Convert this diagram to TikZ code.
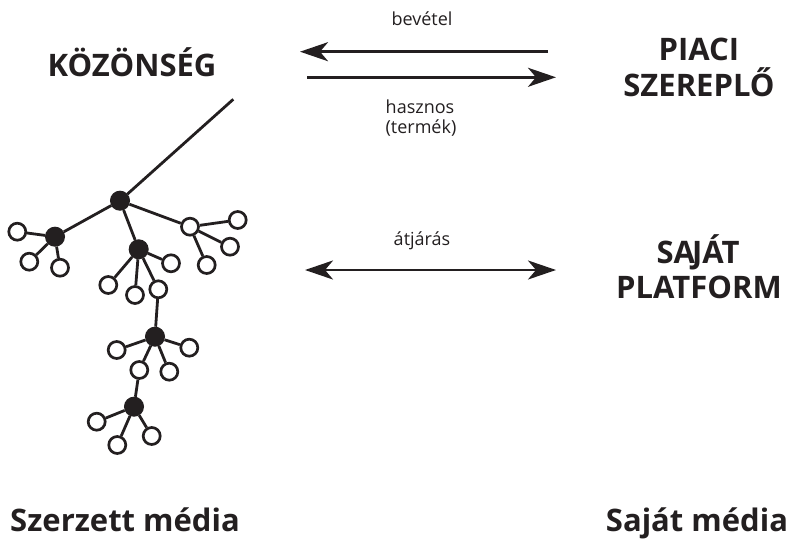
\documentclass[tikz,border=0pt]{standalone}
\usepackage{fontspec}
\setmainfont{Open Sans}
\usetikzlibrary{arrows.meta}
\definecolor{ink}{HTML}{231F20}
\begin{document}
\begin{tikzpicture}[x=1pt,y=-1pt,
  line width=2.5pt, draw=ink,
  open/.style={circle,draw=ink,fill=white,line width=2.7pt,inner sep=0pt,minimum size=17pt},
  hub/.style={circle,draw=ink,fill=ink,line width=1pt,inner sep=0pt,minimum size=19pt},
  big/.style={font=\fontsize{31}{36}\selectfont\bfseries,text=ink,anchor=base,align=center},
  small/.style={font=\fontsize{18}{20}\selectfont,text=ink,anchor=base},
  arr/.style={line width=2.8pt,draw=ink,-{Stealth[length=28pt,width=19pt,inset=8pt]}},
  link/.style={line width=2.8pt,draw=ink}]
\useasboundingbox (0,0) rectangle (788,541);
% texts
\node[big] (koz) at (132,76.7) {KÖZÖNSÉG};
\node[big] (piaci) at (699,60.7) {PIACI};
\node[big] (szer) at (699,96.7) {SZEREPLŐ};
\node[big] (sajat) at (698,263.3) {SA\kern-3pt JÁT};
\node[big] (plat) at (699,298.3) {PLATFORM};
\node[big] (szm) at (125,531.7) {Szerzett média};
\node[big] (sjm) at (697,531.7) {Saját média};
\node[small] (bev) at (422,25) {bevétel};
\node[small] (hasz) at (420,113) {hasznos};
\node[small] (term) at (421,133) {(termék)};
\node[small] (atj) at (422,245) {átjárás};
% arrows
\coordinate (a1s) at (548,51.7);
\coordinate (a1e) at (300,51.7);
\coordinate (a2s) at (307,77.3);
\coordinate (a2e) at (556,77.3);
\coordinate (a3s) at (305,270);
\coordinate (a3e) at (556,270);
\draw[arr] (a1s) -- (a1e);
\draw[arr] (a2s) -- (a2e);
\draw[arr,{Stealth[length=28pt,width=19pt,inset=8pt]}-{Stealth[length=28pt,width=19pt,inset=8pt]}] (a3s) -- (a3e);
% tree
\coordinate (top) at (233.3,99.3);
\node[hub] (A) at (120,200.7) {};
\node[hub] (B) at (55,236.7) {};
\node[hub] (C) at (138.7,249.3) {};
\node[open] (D) at (190,226.7) {};
\node[open] (b1) at (17.3,231.7) {};
\node[open] (b2) at (29.3,261.7) {};
\node[open] (b3) at (60,267.7) {};
\node[open] (d1) at (237.7,220) {};
\node[open] (d2) at (230,246.7) {};
\node[open] (d3) at (206.7,265) {};
\node[open] (c1) at (108.3,285) {};
\node[open] (c2) at (135,295) {};
\node[open] (c3) at (158.3,289.3) {};
\node[open] (c4) at (171,263.3) {};
\node[hub] (E) at (155,336.7) {};
\node[open] (e1) at (116.7,350) {};
\node[open] (e2) at (189.3,347.7) {};
\node[open] (e3) at (139.3,370) {};
\node[open] (e4) at (169.3,371.7) {};
\node[hub] (F) at (134,406.7) {};
\node[open] (f1) at (96.7,421.7) {};
\node[open] (f2) at (117.3,445) {};
\node[open] (f3) at (151.7,436) {};
\draw[link] (A) -- (top);
\draw[link] (A) -- (B);
\draw[link] (A) -- (C);
\draw[link] (A) -- (D);
\draw[link] (B) -- (b1);
\draw[link] (B) -- (b2);
\draw[link] (B) -- (b3);
\draw[link] (D) -- (d1);
\draw[link] (D) -- (d2);
\draw[link] (D) -- (d3);
\draw[link] (C) -- (c1);
\draw[link] (C) -- (c2);
\draw[link] (C) -- (c3);
\draw[link] (C) -- (c4);
\draw[link] (c3) -- (E);
\draw[link] (E) -- (e1);
\draw[link] (E) -- (e2);
\draw[link] (E) -- (e3);
\draw[link] (E) -- (e4);
\draw[link] (e3) -- (F);
\draw[link] (F) -- (f1);
\draw[link] (F) -- (f2);
\draw[link] (F) -- (f3);
\end{tikzpicture}
\end{document}
